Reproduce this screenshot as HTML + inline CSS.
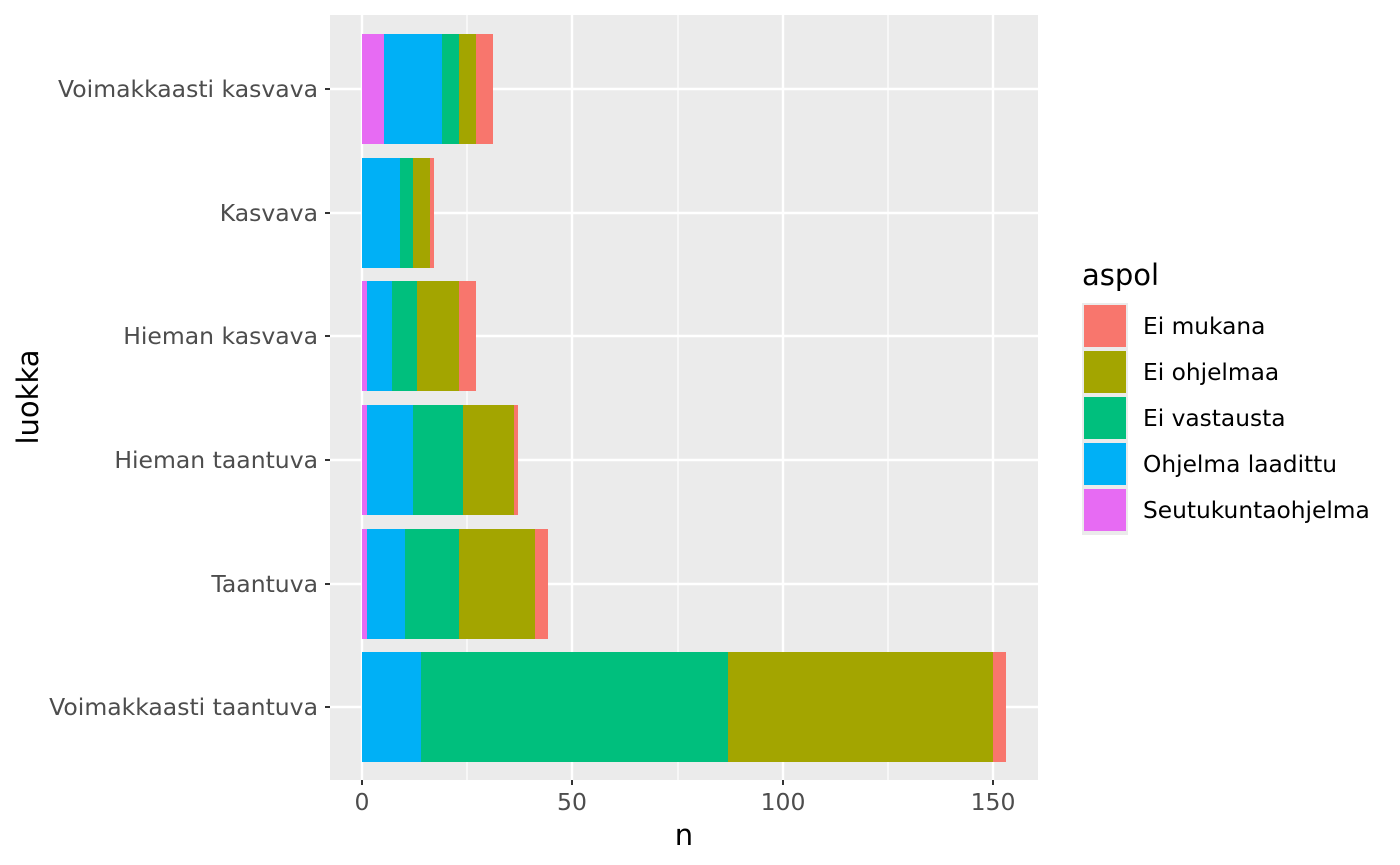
<!DOCTYPE html>
<html><head><meta charset="utf-8"><style>body{margin:0;background:#fff}svg{display:block}text{font-family:"DejaVu Sans","Liberation Sans",sans-serif}</style></head><body>
<svg width="1400" height="865" xmlns="http://www.w3.org/2000/svg">
<rect x="330" y="15" width="708" height="765" fill="#EBEBEB"/>
<g stroke="#fff" stroke-width="1.2">
<line x1="467" y1="15" x2="467" y2="780"/><line x1="678" y1="15" x2="678" y2="780"/><line x1="888" y1="15" x2="888" y2="780"/>
</g>
<g stroke="#fff" stroke-width="2.4">
<line x1="362" y1="15" x2="362" y2="780"/><line x1="572" y1="15" x2="572" y2="780"/><line x1="783" y1="15" x2="783" y2="780"/><line x1="993" y1="15" x2="993" y2="780"/>
<line x1="330" y1="89" x2="1038" y2="89"/><line x1="330" y1="213" x2="1038" y2="213"/><line x1="330" y1="336" x2="1038" y2="336"/><line x1="330" y1="460" x2="1038" y2="460"/><line x1="330" y1="584" x2="1038" y2="584"/><line x1="330" y1="707" x2="1038" y2="707"/>
</g>
<g>
<rect x="362" y="34" width="22" height="110" fill="#E76BF3"/><rect x="384" y="34" width="58" height="110" fill="#00B0F6"/><rect x="442" y="34" width="17" height="110" fill="#00BF7D"/><rect x="459" y="34" width="17" height="110" fill="#A3A500"/><rect x="476" y="34" width="17" height="110" fill="#F8766D"/>
<rect x="362" y="158" width="38" height="110" fill="#00B0F6"/><rect x="400" y="158" width="13" height="110" fill="#00BF7D"/><rect x="413" y="158" width="17" height="110" fill="#A3A500"/><rect x="430" y="158" width="4" height="110" fill="#F8766D"/>
<rect x="362" y="281" width="5" height="110" fill="#E76BF3"/><rect x="367" y="281" width="25" height="110" fill="#00B0F6"/><rect x="392" y="281" width="25" height="110" fill="#00BF7D"/><rect x="417" y="281" width="42" height="110" fill="#A3A500"/><rect x="459" y="281" width="17" height="110" fill="#F8766D"/>
<rect x="362" y="405" width="5" height="110" fill="#E76BF3"/><rect x="367" y="405" width="46" height="110" fill="#00B0F6"/><rect x="413" y="405" width="50" height="110" fill="#00BF7D"/><rect x="463" y="405" width="51" height="110" fill="#A3A500"/><rect x="514" y="405" width="4" height="110" fill="#F8766D"/>
<rect x="362" y="529" width="5" height="110" fill="#E76BF3"/><rect x="367" y="529" width="38" height="110" fill="#00B0F6"/><rect x="405" y="529" width="54" height="110" fill="#00BF7D"/><rect x="459" y="529" width="76" height="110" fill="#A3A500"/><rect x="535" y="529" width="13" height="110" fill="#F8766D"/>
<rect x="362" y="652" width="59" height="110" fill="#00B0F6"/><rect x="421" y="652" width="307" height="110" fill="#00BF7D"/><rect x="728" y="652" width="265" height="110" fill="#A3A500"/><rect x="993" y="652" width="13" height="110" fill="#F8766D"/>
</g>
<g stroke="#333" stroke-width="2">
<line x1="325" y1="89" x2="330" y2="89"/><line x1="325" y1="213" x2="330" y2="213"/><line x1="325" y1="336" x2="330" y2="336"/><line x1="325" y1="460" x2="330" y2="460"/><line x1="325" y1="584" x2="330" y2="584"/><line x1="325" y1="707" x2="330" y2="707"/>
<line x1="362" y1="780" x2="362" y2="785"/><line x1="572" y1="780" x2="572" y2="785"/><line x1="783" y1="780" x2="783" y2="785"/><line x1="993" y1="780" x2="993" y2="785"/>
</g>
<g fill="#4D4D4D" font-size="23.5" text-anchor="end">
<text x="318" y="97">Voimakkaasti kasvava</text><text x="318" y="221">Kasvava</text><text x="318" y="344">Hieman kasvava</text><text x="318" y="468">Hieman taantuva</text><text x="318" y="592">Taantuva</text><text x="318" y="715">Voimakkaasti taantuva</text>
</g>
<g fill="#4D4D4D" font-size="23.5" text-anchor="middle">
<text x="362" y="810">0</text><text x="572" y="810">50</text><text x="783" y="810">100</text><text x="993" y="810">150</text>
</g>
<text x="684" y="845" font-size="29" text-anchor="middle">n</text>
<text transform="translate(38,397) rotate(-90)" font-size="29" text-anchor="middle">luokka</text>
<text x="1082" y="285" font-size="29">aspol</text>
<rect x="1082" y="303" width="46" height="232" fill="#EBEBEB"/>
<rect x="1084" y="305" width="42" height="42" fill="#F8766D"/>
<rect x="1084" y="351" width="42" height="42" fill="#A3A500"/>
<rect x="1084" y="397" width="42" height="42" fill="#00BF7D"/>
<rect x="1084" y="443" width="42" height="42" fill="#00B0F6"/>
<rect x="1084" y="489" width="42" height="42" fill="#E76BF3"/>
<g font-size="23.3">
<text x="1143" y="334">Ei mukana</text><text x="1143" y="380">Ei ohjelmaa</text><text x="1143" y="426">Ei vastausta</text><text x="1143" y="472">Ohjelma laadittu</text><text x="1143" y="518">Seutukuntaohjelma</text>
</g>
</svg>
</body></html>
